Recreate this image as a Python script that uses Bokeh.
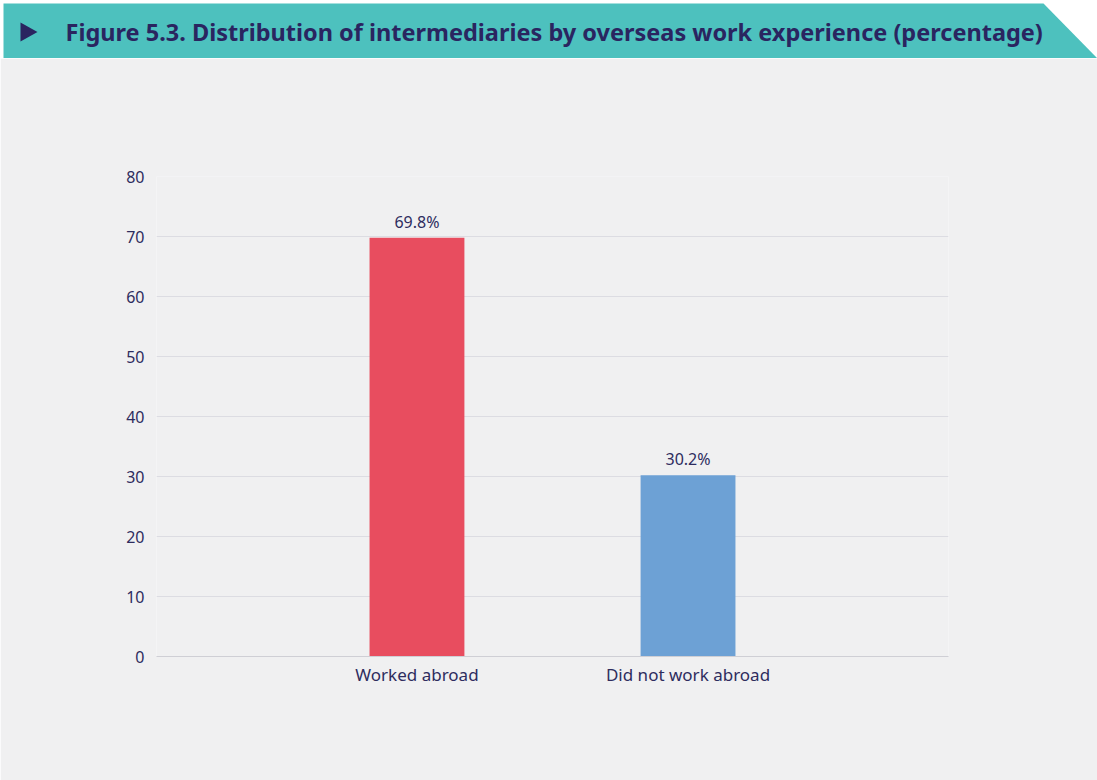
from bokeh.plotting import figure
from bokeh.models import FactorRange, Range1d, FixedTicker, ColumnDataSource
from bokeh.core.properties import value
from bokeh.embed import file_html
from bokeh.resources import INLINE

# ---- data ----
title_text = "Figure 5.3. Distribution of intermediaries by overseas work experience (percentage)"
categories = ["Worked abroad", "Did not work abroad"]
values = [69.8, 30.2]
value_labels = ["69.8%", "30.2%"]
bar_colors = ["#E84D5F", "#6DA1D5"]
y_ticks = [0, 10, 20, 30, 40, 50, 60, 70, 80]

NAVY = "#2A2560"
TEXT = "#2E2C5E"
BG = "#F0F0F1"
TEAL = "#4DC1BE"
FONT = "Noto Sans"

W = 1097
BH = 58

# ---- banner ----
banner = figure(width=W, height=BH, x_range=Range1d(0, W), y_range=Range1d(BH, 0),
                output_backend="svg", toolbar_location=None, min_border=0,
                border_fill_color="white", background_fill_color="white")
banner.axis.visible = False
banner.grid.visible = False
banner.outline_line_color = None
banner.patch(x=[3, 1043, 1097, 3], y=[3, 3, 58, 58], fill_color=TEAL, line_color=None)
banner.patch(x=[20, 37, 20], y=[22, 31.5, 41], fill_color=NAVY, line_color=None)
banner.text(x=[65], y=[31.5], text=[title_text], text_font=value(FONT), text_font_style="bold",
            text_font_size="23.5px", text_color=NAVY, text_baseline="middle", text_align="left")

# ---- chart ----
src = ColumnDataSource(dict(cat=categories, val=values, lab=value_labels, col=bar_colors))

p = figure(x_range=FactorRange(factors=categories, range_padding=0.461),
           y_range=Range1d(0, 80),
           frame_width=792, frame_height=480,
           min_border_left=156, min_border_right=149, min_border_top=118, min_border_bottom=124,
           output_backend="svg", toolbar_location=None,
           background_fill_color=BG, border_fill_color=BG)
p.outline_line_color = None

p.vbar(x="cat", top="val", width=0.35, fill_color="col", line_color=None, source=src)
p.text(x="cat", y="val", text="lab", source=src, text_font=value(FONT), text_font_size="16px",
       text_color=TEXT, text_align="center", text_baseline="alphabetic", y_offset=-16)

p.yaxis.ticker = FixedTicker(ticks=y_ticks)
p.yaxis.axis_line_color = None
p.yaxis.major_tick_line_color = None
p.yaxis.major_tick_out = 0
p.yaxis.major_tick_in = 0
p.yaxis.minor_tick_line_color = None
p.yaxis.major_label_standoff = 12
p.yaxis.major_label_text_font = FONT
p.yaxis.major_label_text_font_size = "16px"
p.yaxis.major_label_text_color = TEXT

p.xaxis.axis_line_color = "#CFCFD5"
p.xaxis.major_tick_line_color = None
p.xaxis.major_tick_out = 0
p.xaxis.major_tick_in = 0
p.xaxis.minor_tick_line_color = None
p.xaxis.major_label_standoff = 6
p.xaxis.major_label_text_font = FONT
p.xaxis.major_label_text_font_size = "17px"
p.xaxis.major_label_text_color = TEXT

p.xgrid.grid_line_color = None
p.ygrid.grid_line_color = "#DCDCE2"
p.ygrid.ticker = FixedTicker(ticks=y_ticks)

open("out.html", "w").write(file_html([banner, p], INLINE))
